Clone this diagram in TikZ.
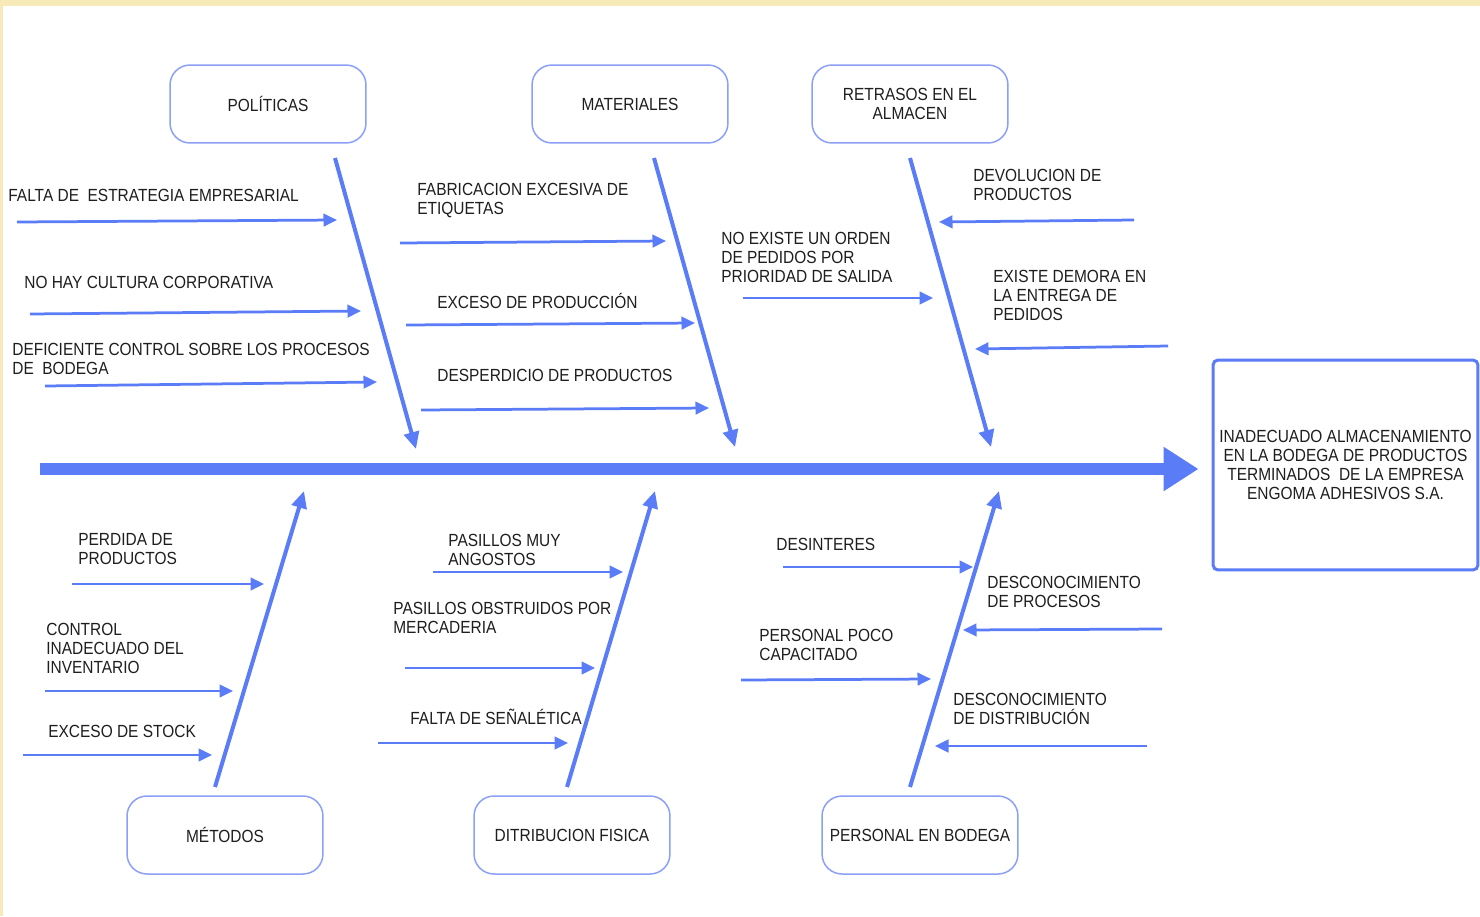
\documentclass[tikz,border=0pt]{standalone}
\usepackage{fontspec}
\setmainfont{Liberation Sans}[FakeStretch=0.88]
\usepackage{xcolor}
\definecolor{espina}{HTML}{5B7CF7}
\definecolor{bordecaja}{HTML}{8CA0F7}
\definecolor{marco}{HTML}{F7E9B8}
\definecolor{texto}{HTML}{1E1E1E}
\usetikzlibrary{arrows.meta,positioning}

\tikzset{
  catbox/.style={rectangle, draw=bordecaja, line width=0.03cm, rounded corners=0.4cm,
    minimum width=3.92cm, minimum height=1.56cm, align=center, text=texto},
  lbl/.style={anchor=north west, inner sep=0pt, align=left, text=texto},
  bone/.style={draw=espina, line width=0.08cm, -{Triangle[length=0.34cm,width=0.3cm]}},
  causearr/.style={draw=espina, line width=0.055cm, -{Triangle[length=0.27cm,width=0.25cm]}},
}

\begin{document}
\begin{tikzpicture}[x=0.02cm, y=-0.02cm, font=\fontsize{10}{10.8}\selectfont]
  \useasboundingbox (0,0) rectangle (1480,916);
  \fill[white] (0,0) rectangle (1480,916);
  \fill[marco] (0,0) rectangle (1480,6);
  \fill[marco] (0,0) rectangle (3,916);

  % efecto
  \node[rectangle, draw=espina, line width=0.06cm, rounded corners=0.1cm,
    minimum width=5.3cm, minimum height=4.2cm, align=center, text=texto]
    (efecto) at (1345.5,465) {INADECUADO ALMACENAMIENTO\\EN LA BODEGA DE PRODUCTOS\\
    TERMINADOS\ \ DE LA EMPRESA\\ENGOMA ADHESIVOS S.A.};
  \coordinate (cola) at (40,469);
  \draw[espina, line width=0.24cm, shorten >=0.26cm,
    -{Triangle[length=0.7cm,width=0.84cm]}] (cola) -- (cola -| efecto.west);

  % categorias
  \node[catbox] (pol) at (268,104) {POLÍTICAS};
  \node[catbox] (mat) at (630,104) {MATERIALES};
  \node[catbox] (ret) at (910,104) {RETRASOS EN EL\\ALMACEN};
  \node[catbox] (met) at (225,835) {MÉTODOS};
  \node[catbox] (dis) at (572,835) {DITRIBUCION FISICA};
  \node[catbox] (per) at (920,835) {PERSONAL EN BODEGA};

  % espinas
  \coordinate (pol1) at (335,158); \coordinate (pol2) at (416,449);
  \coordinate (mat1) at (654,158); \coordinate (mat2) at (735,447);
  \coordinate (ret1) at (910,158); \coordinate (ret2) at (991,447);
  \coordinate (met1) at (215,787); \coordinate (met2) at (304,491);
  \coordinate (dis1) at (567,787); \coordinate (dis2) at (655,491);
  \coordinate (per1) at (910,787); \coordinate (per2) at (999,491);
  \draw[bone] (pol1) -- (pol2);
  \draw[bone] (mat1) -- (mat2);
  \draw[bone] (ret1) -- (ret2);
  \draw[bone] (met1) -- (met2);
  \draw[bone] (dis1) -- (dis2);
  \draw[bone] (per1) -- (per2);

  % politicas
  \node[lbl] (c1) at (8,189) {FALTA DE\ \ ESTRATEGIA EMPRESARIAL};
  \coordinate (c1a) at (17,222); \coordinate (c1b) at (337,220);
  \draw[causearr] (c1a) -- (c1b);
  \node[lbl] (c2) at (24,276) {NO HAY CULTURA CORPORATIVA};
  \coordinate (c2a) at (30,314); \coordinate (c2b) at (361,311);
  \draw[causearr] (c2a) -- (c2b);
  \node[lbl] (c3) at (12,343) {DEFICIENTE CONTROL SOBRE LOS PROCESOS\\DE\ \ BODEGA};
  \coordinate (c3a) at (45,386); \coordinate (c3b) at (377,382);
  \draw[causearr] (c3a) -- (c3b);

  % materiales
  \node[lbl] (c4) at (417,183) {FABRICACION EXCESIVA DE\\ETIQUETAS};
  \coordinate (c4a) at (400,243); \coordinate (c4b) at (666,241);
  \draw[causearr] (c4a) -- (c4b);
  \node[lbl] (c5) at (437,293) {EXCESO DE PRODUCCIÓN};
  \coordinate (c5a) at (406,325); \coordinate (c5b) at (695,323);
  \draw[causearr] (c5a) -- (c5b);
  \node[lbl] (c6) at (437,369) {DESPERDICIO DE PRODUCTOS};
  \coordinate (c6a) at (421,410); \coordinate (c6b) at (709,408);
  \draw[causearr] (c6a) -- (c6b);

  % retrasos
  \node[lbl] (c7) at (721,232) {NO EXISTE UN ORDEN\\DE PEDIDOS POR\\PRIORIDAD DE SALIDA};
  \coordinate (c7a) at (743,298); \coordinate (c7b) at (933,298);
  \draw[causearr] (c7a) -- (c7b);
  \node[lbl] (c8) at (973,169) {DEVOLUCION DE\\PRODUCTOS};
  \coordinate (c8a) at (1134,220); \coordinate (c8b) at (939,222);
  \draw[causearr] (c8a) -- (c8b);
  \node[lbl] (c9) at (993,270) {EXISTE DEMORA EN\\LA ENTREGA DE\\PEDIDOS};
  \coordinate (c9a) at (1168,346); \coordinate (c9b) at (975,349);
  \draw[causearr] (c9a) -- (c9b);

  % metodos
  \node[lbl] (c10) at (78,533) {PERDIDA DE\\PRODUCTOS};
  \coordinate (c10a) at (72,584); \coordinate (c10b) at (264,584);
  \draw[causearr] (c10a) -- (c10b);
  \node[lbl] (c11) at (46,623) {CONTROL\\INADECUADO DEL\\INVENTARIO};
  \coordinate (c11a) at (45,691); \coordinate (c11b) at (233,691);
  \draw[causearr] (c11a) -- (c11b);
  \node[lbl] (c12) at (48,725) {EXCESO DE STOCK};
  \coordinate (c12a) at (23,755); \coordinate (c12b) at (212,755);
  \draw[causearr] (c12a) -- (c12b);

  % distribucion fisica
  \node[lbl] (c13) at (448,534) {PASILLOS MUY\\ANGOSTOS};
  \coordinate (c13a) at (433,572); \coordinate (c13b) at (623,572);
  \draw[causearr] (c13a) -- (c13b);
  \node[lbl] (c14) at (393,602) {PASILLOS OBSTRUIDOS POR\\MERCADERIA};
  \coordinate (c14a) at (405,668); \coordinate (c14b) at (595,668);
  \draw[causearr] (c14a) -- (c14b);
  \node[lbl] (c15) at (410,709) {FALTA DE SEÑALÉTICA};
  \coordinate (c15a) at (378,743); \coordinate (c15b) at (568,743);
  \draw[causearr] (c15a) -- (c15b);

  % personal
  \node[lbl] (c16) at (776,538) {DESINTERES};
  \coordinate (c16a) at (783,567); \coordinate (c16b) at (973,567);
  \draw[causearr] (c16a) -- (c16b);
  \node[lbl] (c17) at (987,576) {DESCONOCIMIENTO\\DE PROCESOS};
  \coordinate (c17a) at (1162,629); \coordinate (c17b) at (963,630);
  \draw[causearr] (c17a) -- (c17b);
  \node[lbl] (c18) at (759,629) {PERSONAL POCO\\CAPACITADO};
  \coordinate (c18a) at (741,680); \coordinate (c18b) at (931,679);
  \draw[causearr] (c18a) -- (c18b);
  \node[lbl] (c19) at (953,693) {DESCONOCIMIENTO\\DE DISTRIBUCIÓN};
  \coordinate (c19a) at (1147,746); \coordinate (c19b) at (935,746);
  \draw[causearr] (c19a) -- (c19b);
\end{tikzpicture}
\end{document}
